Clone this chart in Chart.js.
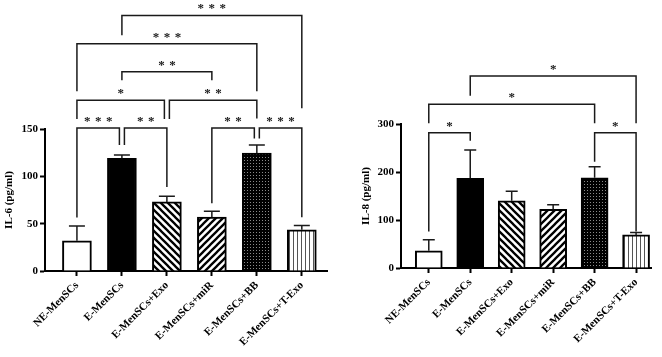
<!DOCTYPE html>
<html lang="en">
<head>
    <meta charset="UTF-8">
    <title>IL-6 / IL-8</title>
    <script src="https://cdn.jsdelivr.net/npm/chart.js"></script>
    <style>
        body { margin: 0; background: #fff; }
        #wrap { position: relative; width: 662px; height: 357px; }
        canvas { position: absolute; top: 0; }
    </style>
</head>
<body>
    <div id="wrap">
        <canvas id="il6" width="331" height="357" style="left:0"></canvas>
        <canvas id="il8" width="331" height="357" style="left:331px"></canvas>
    </div>

    <script>
        const groups = ['NE-MenSCs', 'E-MenSCs', 'E-MenSCs+Exo', 'E-MenSCs+miR', 'E-MenSCs+BB', 'E-MenSCs+T-Exo'];
        const il6Mean = [32, 119, 73, 57, 124.5, 43.5];
        const il6Sd = [15.5, 3.5, 6, 6, 8.5, 4.5];
        const il8Mean = [36, 187, 140, 122, 188, 69];
        const il8Sd = [23, 59, 20, 10, 23, 5];
        const il6Ticks = [0, 50, 100, 150];
        const il8Ticks = [0, 100, 200, 300];
        // brackets: [group a, group b, bar level, leg end a, leg end b, stars] (in pg/ml)
        const il6Sig = [
            [1, 5, 270, 249, 172, '***'],
            [0, 4, 240, 190, 190, '***'],
            [1, 3, 210.5, 201.5, 201.5, '**'],
            [0, 2, 180.5, 160.5, 160.5, '*'],
            [2, 4, 180.5, 160.5, 161, '**'],
            [0, 1, 151, 56.5, 133, '***'],
            [1, 2, 151, 133, 88.7, '**'],
            [3, 4, 151, 71.5, 140, '**'],
            [4, 5, 151, 140, 56.7, '***']
        ];
        const il8Sig = [
            [1, 5, 400, 359, 301.5, '*'],
            [0, 4, 341, 301.5, 301.5, '*'],
            [0, 1, 282, 76, 265, '*'],
            [4, 5, 282, 221.6, 76, '*']
        ];

        const serif = '"Liberation Serif", "Times New Roman", serif';

        function tile(w, h, draw) {
            const c = document.createElement('canvas');
            c.width = w; c.height = h;
            const g = c.getContext('2d');
            draw(g);
            return g.createPattern(c, 'repeat');
        }

        function stripes(back) {
            const p = 7;
            return tile(p, p, g => {
                g.fillStyle = '#fff'; g.fillRect(0, 0, p, p);
                g.strokeStyle = '#000'; g.lineWidth = 2.3;
                g.beginPath();
                if (back) {
                    g.moveTo(-1, -1); g.lineTo(p + 1, p + 1);
                    g.moveTo(-1, p - 1); g.lineTo(1, p + 1);
                    g.moveTo(p - 1, -1); g.lineTo(p + 1, 1);
                } else {
                    g.moveTo(-1, p + 1); g.lineTo(p + 1, -1);
                    g.moveTo(-1, 1); g.lineTo(1, -1);
                    g.moveTo(p - 1, p + 1); g.lineTo(p + 1, p - 1);
                }
                g.stroke();
            });
        }

        function fills() {
            const dots = tile(3, 3, g => {
                g.fillStyle = '#000'; g.fillRect(0, 0, 3, 3);
                g.fillStyle = '#8a8a8a'; g.fillRect(1, 1, 1, 1);
            });
            const vlines = tile(4, 1, g => {
                g.fillStyle = '#fff'; g.fillRect(0, 0, 4, 1);
                g.fillStyle = '#555'; g.fillRect(1, 0, 1, 1);
            });
            return ['#fff', '#000', stripes(true), stripes(false), dots, vlines];
        }

        function sigPlugin(mean, sd, sig, cap, gap) {
            return {
                id: 'sig',
                afterDatasetsDraw(chart) {
                    const ctx = chart.ctx, y = chart.scales.y;
                    const bars = chart.getDatasetMeta(0).data;
                    ctx.save();
                    ctx.strokeStyle = '#1a1a1a';
                    ctx.lineWidth = 1.5;
                    // error bars (upper SD only)
                    sd.forEach((s, i) => {
                        const b = bars[i];
                        const top = y.getPixelForValue(mean[i] + s);
                        ctx.beginPath();
                        ctx.moveTo(b.x, b.y);
                        ctx.lineTo(b.x, top);
                        ctx.moveTo(b.x - cap / 2, top);
                        ctx.lineTo(b.x + cap / 2, top);
                        ctx.stroke();
                    });
                    // significance brackets
                    ctx.fillStyle = '#1a1a1a';
                    ctx.font = 'bold 13px ' + serif;
                    ctx.textAlign = 'center';
                    ctx.textBaseline = 'alphabetic';
                    sig.forEach(s => {
                        const [a, b, lvl, endA, endB, stars] = s;
                        const shareA = sig.some(t => t !== s && t[2] === lvl && t[1] === a);
                        const shareB = sig.some(t => t !== s && t[2] === lvl && t[0] === b);
                        const xa = bars[a].x + (shareA ? 2.5 : 0);
                        const xb = bars[b].x - (shareB ? 2.5 : 0);
                        const yl = y.getPixelForValue(lvl);
                        ctx.beginPath();
                        ctx.moveTo(xa, y.getPixelForValue(endA));
                        ctx.lineTo(xa, yl);
                        ctx.lineTo(xb, yl);
                        ctx.lineTo(xb, y.getPixelForValue(endB));
                        ctx.stroke();
                        const n = stars.length, mid = (xa + xb) / 2;
                        for (let k = 0; k < n; k++) {
                            ctx.fillText('*', mid + (k - (n - 1) / 2) * gap, yl - 3);
                        }
                    });
                    ctx.restore();
                }
            };
        }

        function makeChart(id, mean, sd, yTicks, sig, title, c) {
            return new Chart(document.getElementById(id), {
                type: 'bar',
                data: {
                    datasets: [{
                        data: mean.map((v, i) => ({ x: i, y: v })),
                        backgroundColor: fills(),
                        borderColor: '#000',
                        borderWidth: 2,
                        barThickness: c.barW
                    }]
                },
                options: {
                    responsive: false,
                    animation: false,
                    layout: { padding: { top: c.top, right: c.right, left: c.left, bottom: 0 } },
                    plugins: { legend: { display: false }, tooltip: { enabled: false } },
                    scales: {
                        x: {
                            type: 'linear',
                            offset: false,
                            min: c.xMin,
                            max: c.xMax,
                            afterBuildTicks: s => { s.ticks = groups.map((g, i) => ({ value: i })); },
                            afterFit: s => { s.height = c.xH; },
                            ticks: {
                                autoSkip: false,
                                maxRotation: 45,
                                minRotation: 45,
                                padding: 3,
                                color: '#000',
                                font: { family: serif, size: 11, weight: 'bold' },
                                callback: v => groups[Math.round(v)]
                            },
                            grid: { offset: false, drawOnChartArea: false, tickLength: 5, tickWidth: 2, tickColor: '#000' },
                            border: { color: '#000', width: 2 }
                        },
                        y: {
                            min: 0,
                            max: yTicks[yTicks.length - 1],
                            afterBuildTicks: s => { s.ticks = yTicks.map(v => ({ value: v })); },
                            afterFit: s => { s.width = c.yW; },
                            ticks: {
                                padding: 2,
                                color: '#000',
                                font: { family: serif, size: 11, weight: 'bold' }
                            },
                            grid: { drawOnChartArea: false, tickLength: 5, tickWidth: 2, tickColor: '#000' },
                            border: { color: '#000', width: 2 },
                            title: {
                                display: true,
                                text: title,
                                color: '#000',
                                padding: { top: 3, bottom: 0 },
                                font: { family: serif, size: 11, weight: 'bold' }
                            }
                        }
                    }
                },
                plugins: [sigPlugin(mean, sd, sig, c.cap, c.gap)]
            });
        }

        makeChart('il6', il6Mean, il6Sd, il6Ticks, il6Sig, 'IL-6 (pg/ml)',
            { top: 129, right: 4, left: 0, yW: 45, xH: 86, xMin: -0.71, xMax: 5.56, barW: 29, cap: 16, gap: 11 });
        makeChart('il8', il8Mean, il8Sd, il8Ticks, il8Sig, 'IL-8 (pg/ml)',
            { top: 124, right: 11, left: 26, yW: 44, xH: 89, xMin: -0.67, xMax: 5.36, barW: 27, cap: 12, gap: 11 });
    </script>
</body>
</html>
